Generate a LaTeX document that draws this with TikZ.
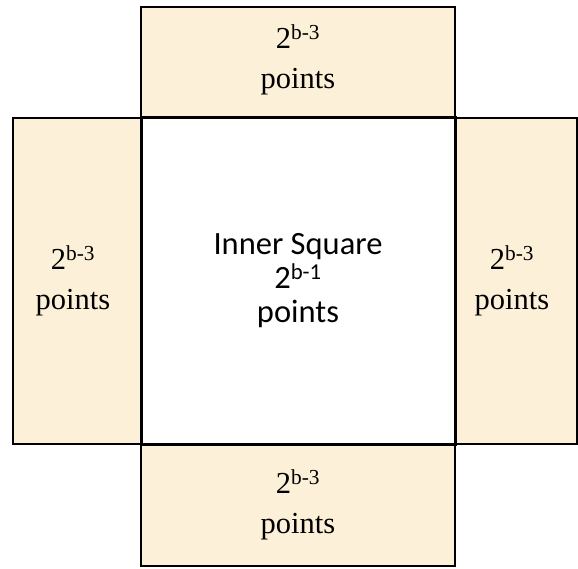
\documentclass[tikz,border=0pt]{standalone}
\usepackage{fontspec}
\setmainfont{Liberation Serif}
\newfontfamily\calib{Carlito}
\definecolor{parch}{RGB}{252,240,216}
\begin{document}
\begin{tikzpicture}[x=1pt,y=1pt,
  sidebox/.style={draw=black,line width=2pt,fill=parch,inner sep=0pt,outer sep=0pt},
  sidetext/.style={font=\fontsize{30.5}{40}\selectfont,align=center,inner sep=0pt},
  innerbox/.style={draw=black,line width=3pt,fill=white,inner sep=0pt,outer sep=0pt},
  innertext/.style={font=\calib\fontsize{32.5}{34}\selectfont,align=center,inner sep=0pt}]
\useasboundingbox (0,0) rectangle (578,568);
% boxes
\node[sidebox,minimum width=314pt,minimum height=111pt,anchor=north west] (top) at (141,561) {};
\node[sidebox,minimum width=128pt,minimum height=326pt,anchor=north west] (left) at (13,450) {};
\node[sidebox,minimum width=122pt,minimum height=326pt,anchor=north west] (right) at (455,450) {};
\node[sidebox,minimum width=314pt,minimum height=122pt,anchor=north west] (bottom) at (141,124) {};
\node[innerbox,minimum width=314pt,minimum height=326pt,anchor=north west] (sq) at (141,450) {};
% texts
\node[sidetext] (toptext) at ([yshift=3pt]top.center) {2\textsuperscript{b-3}\\points};
\node[sidetext] (lefttext) at ([xshift=-4pt]left.center) {2\textsuperscript{b-3}\\points};
\node[sidetext] (righttext) at ([xshift=-4pt]right.center) {2\textsuperscript{b-3}\\points};
\node[sidetext] (bottomtext) at (bottom.center) {2\textsuperscript{b-3}\\points};
\node[innertext] (sqtext) at (sq.center) {Inner Square\\2\textsuperscript{b-1}\\points};
\end{tikzpicture}
\end{document}
